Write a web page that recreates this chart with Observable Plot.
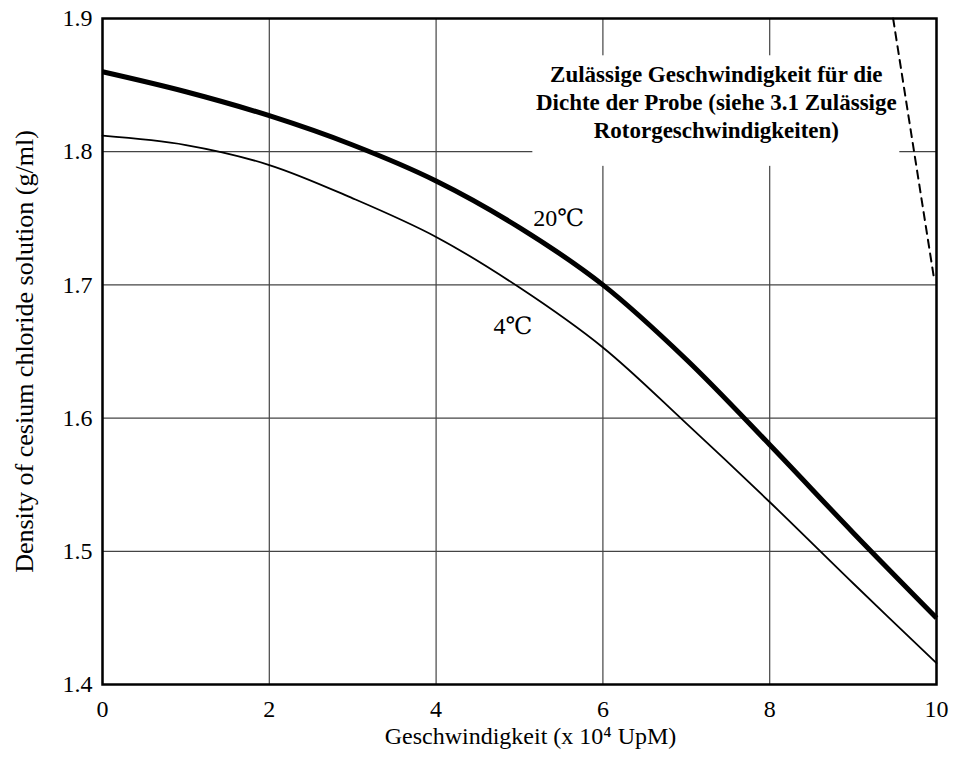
<!DOCTYPE html>
<html>
<head>
<meta charset="utf-8">
<script src="https://cdn.jsdelivr.net/npm/d3@7"></script>
<script src="https://cdn.jsdelivr.net/npm/@observablehq/plot@0.6"></script>
<style>
  html, body { margin: 0; padding: 0; background: white; }
  #chart svg { display: block; }
</style>
</head>
<body>
<div id="chart"></div>
<script>
// Speed in units of 10^4 rpm
const speed = [0, 1, 2, 3, 4, 5, 6, 7, 8, 9, 10];
// Maximum density (g/ml) at 20 °C and 4 °C
const density20 = [1.860, 1.845, 1.827, 1.805, 1.778, 1.743, 1.700, 1.644, 1.580, 1.514, 1.450];
const density4  = [1.812, 1.805, 1.790, 1.765, 1.736, 1.698, 1.653, 1.596, 1.537, 1.476, 1.416];

// Permitted-speed limit (dashed)
const limitSpeed = [9.48, 9.97];
const limitDensity = [1.9, 1.705];

const xTicks = [0, 2, 4, 6, 8, 10];
const yTicks = [1.4, 1.5, 1.6, 1.7, 1.8, 1.9];

const curveLabels = ["20℃", "4℃"];
const curveLabelSpeed = [5.47, 4.92];
const curveLabelDensity = [1.750, 1.669];

const noteLines = ["Zulässige Geschwindigkeit für die", "Dichte der Probe (siehe 3.1 Zulässige", "Rotorgeschwindigkeiten)"];
const noteSpeed = [7.36];
const noteDensity = [1.838];
const noteBoxSpeed = [5.16, 9.56];
const noteBoxDensity = [1.789, 1.872];

const xLabel = "Geschwindigkeit (x 10⁴ UpM)";
const yLabel = "Density of cesium chloride solution (g/ml)";

const rows20 = speed.map((s, i) => ({speed: s, density: density20[i]}));
const rows4 = speed.map((s, i) => ({speed: s, density: density4[i]}));
const limitRows = limitSpeed.map((s, i) => ({speed: s, density: limitDensity[i]}));
const labelRows = curveLabels.map((t, i) => ({text: t, speed: curveLabelSpeed[i], density: curveLabelDensity[i]}));
const noteRows = [{text: noteLines.join("\n"), speed: noteSpeed[0], density: noteDensity[0]}];
const boxRows = [{x1: noteBoxSpeed[0], x2: noteBoxSpeed[1], y1: noteBoxDensity[0], y2: noteBoxDensity[1]}];

const chart = Plot.plot({
  width: 953,
  height: 762,
  marginLeft: 102,
  marginRight: 17,
  marginTop: 18,
  marginBottom: 78,
  style: {fontFamily: "'Liberation Serif', 'DejaVu Serif', serif", background: "white", color: "black"},
  x: {domain: [0, 10]},
  y: {domain: [1.4, 1.9]},
  marks: [
    Plot.gridX(xTicks, {stroke: "#444", strokeOpacity: 1, strokeWidth: 1.2}),
    Plot.gridY(yTicks, {stroke: "#444", strokeOpacity: 1, strokeWidth: 1.2}),
    Plot.rect(boxRows, {x1: "x1", x2: "x2", y1: "y1", y2: "y2", fill: "white"}),
    Plot.line(rows20, {x: "speed", y: "density", curve: "catmull-rom", stroke: "black", strokeWidth: 5, strokeLinecap: "butt"}),
    Plot.line(rows4, {x: "speed", y: "density", curve: "catmull-rom", stroke: "black", strokeWidth: 1.8}),
    Plot.line(limitRows, {x: "speed", y: "density", stroke: "black", strokeWidth: 2, strokeDasharray: "8,6"}),
    Plot.frame({stroke: "black", strokeWidth: 2.5}),
    Plot.axisX(xTicks, {tickSize: 0, tickPadding: 15, fontSize: 24, label: null, tickFormat: d => String(d)}),
    Plot.axisY(yTicks, {tickSize: 0, tickPadding: 10, fontSize: 24, label: null, tickFormat: d3.format(".1f")}),
    Plot.text(labelRows, {x: "speed", y: "density", text: "text", fontSize: 24, fill: "black"}),
    Plot.text(noteRows, {x: "speed", y: "density", text: "text", fontSize: 23, fontWeight: "bold", lineHeight: 1.2, fill: "black"}),
    Plot.text([yLabel], {frameAnchor: "left", textAnchor: "middle", dx: -78, rotate: -90, fontSize: 26, fill: "black"}),
    Plot.text([xLabel], {frameAnchor: "bottom", textAnchor: "middle", dx: 11, dy: 59, lineAnchor: "bottom", fontSize: 24, fill: "black"})
  ]
});

document.getElementById("chart").appendChild(chart);
</script>
</body>
</html>
